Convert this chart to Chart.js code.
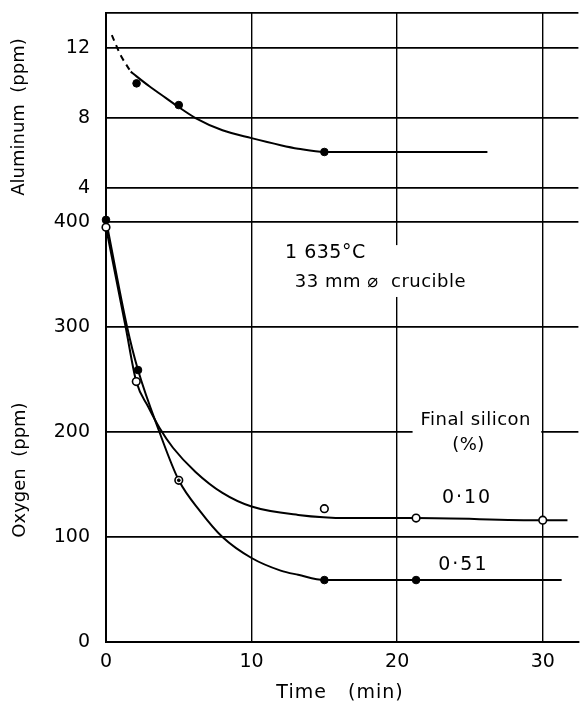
<!DOCTYPE html>
<html>
<head>
<meta charset="utf-8">
<title>Aluminum and oxygen vs time</title>
<script src="https://cdn.jsdelivr.net/npm/chart.js@4.4.1/dist/chart.umd.min.js"></script>
<style>
  html, body { margin: 0; padding: 0; background: #fff; }
  canvas { display: block; }
</style>
</head>
<body>
<canvas id="deox" width="584" height="702"></canvas>
<script>
// measured aluminium (ppm)
const alTime = [2.1, 5.0, 15.0];
const alPpm = [9.98, 8.74, 6.06];

// faired aluminium curve, dashed where extrapolated back to t = 0
const alDashTime = [0.4, 1.0, 1.7];
const alDashPpm = [12.74, 11.6, 10.65];
const alFitTime = [1.7, 2.1, 3.0, 4.1, 5.0, 6.15, 8, 10, 12, 13.2, 15, 26.2];
const alFitPpm = [10.65, 10.38, 9.8, 9.15, 8.62, 8.0, 7.3, 6.85, 6.45, 6.25, 6.06, 6.06];

// oxygen (ppm), final silicon 0.51 % (filled) and 0.10 % (open)
const oxTime51 = [0, 2.2, 5.0, 15.0, 21.3];
const oxPpm51 = [402, 259, 154, 59, 59];
const oxTime10 = [0, 2.08, 5.0, 15.0, 21.3, 30.0];
const oxPpm10 = [395, 248, 154, 127, 118, 116];

const fitTime51 = [0, 1.45, 2.2, 3.67, 5.0, 6.5, 8, 10, 12, 13.2, 15, 21.3, 31.3];
const fitPpm51 = [402, 300, 259, 200, 154, 124, 100, 80, 68, 64, 59, 59, 59];
const fitTime10 = [0, 1.35, 2.08, 2.9, 3.67, 4.6, 6.15, 8, 10, 13.2, 16.6, 21.3, 30, 31.7];
const fitPpm10 = [395, 300, 248, 224, 204, 185, 162, 142, 129, 121, 118, 118, 116, 116];

const timeTicks = [0, 10, 20, 30];
const alTicks = [4, 8, 12];
const oxTicks = [0, 100, 200, 300, 400];

const FONT = '"DejaVu Sans", sans-serif';

function pts(xs, ys) {
  return xs.map((x, i) => ({ x: x, y: ys[i] }));
}

function curve(xs, ys, axis, dash) {
  return {
    data: pts(xs, ys),
    yAxisID: axis,
    showLine: true,
    borderColor: '#000',
    borderWidth: 2,
    borderDash: dash || [],
    pointRadius: 0,
    cubicInterpolationMode: 'monotone',
    order: 3
  };
}

function marks(xs, ys, axis, open, radius) {
  return {
    data: pts(xs, ys),
    yAxisID: axis,
    showLine: false,
    pointRadius: radius || 3.8,
    pointBackgroundColor: open ? '#fff' : '#000',
    pointBorderColor: '#000',
    pointBorderWidth: open ? 1.6 : 1,
    clip: false,
    order: open ? 2 : 1
  };
}

// fixed gutter for the left axes; drop the label overhang so the plot can start near the top
function leftGutter(axis) {
  axis.width = 106;
  axis.paddingTop = 0;
  axis.paddingBottom = 0;
}

// titles and the notes inside the plot
const labelsPlugin = {
  id: 'labels',
  afterDraw(chart) {
    const ctx = chart.ctx;
    const x = chart.scales.x;
    const yO = chart.scales.yO;
    const px = (t) => x.getPixelForValue(t);
    const py = (v) => yO.getPixelForValue(v);
    ctx.save();
    ctx.fillStyle = '#000';
    ctx.textBaseline = 'middle';

    // axis titles
    ctx.font = '18px ' + FONT;
    ctx.textAlign = 'center';
    ctx.save();
    ctx.translate(19, 117);
    ctx.rotate(-Math.PI / 2);
    ctx.fillText('Aluminum  (ppm)', 0, 0);
    ctx.restore();
    ctx.save();
    ctx.translate(20, 470);
    ctx.rotate(-Math.PI / 2);
    ctx.fillText('Oxygen  (ppm)', 0, 0);
    ctx.restore();
    ctx.font = '19px ' + FONT;
    ctx.letterSpacing = '1px';
    ctx.fillText('Time   (min)', 340, 693);

    // white patches behind the notes
    ctx.fillStyle = '#fff';
    ctx.fillRect(px(12.1), py(378), px(25.0) - px(12.1), py(328.6) - py(378));
    ctx.fillRect(px(21.06), py(225.7), px(29.9) - px(21.06), py(175.2) - py(225.7));
    ctx.fillStyle = '#000';

    ctx.font = '19px ' + FONT;
    ctx.letterSpacing = '0.5px';
    ctx.textAlign = 'left';
    ctx.fillText('1 635°C', px(12.3), py(370.5));
    ctx.font = '18px ' + FONT;
    ctx.fillText('33 mm ⌀  crucible', px(12.97), py(342.9));

    ctx.textAlign = 'center';
    ctx.fillText('Final silicon', px(25.4), py(211.4));
    ctx.fillText('(%)', px(24.9), py(187.6));
    ctx.font = '19px ' + FONT;
    ctx.letterSpacing = '2px';
    ctx.fillText('0·10', px(24.8), py(137));
    ctx.fillText('0·51', px(24.55), py(73.3));
    ctx.restore();
  }
};

const ctx = document.getElementById('deox').getContext('2d');
const chart = new Chart(ctx, {
  type: 'scatter',
  data: {
    datasets: [
      curve(alDashTime, alDashPpm, 'yAl', [6, 5]),
      curve(alFitTime, alFitPpm, 'yAl'),
      curve(fitTime51, fitPpm51, 'yO'),
      curve(fitTime10, fitPpm10, 'yO'),
      marks(alTime, alPpm, 'yAl', false),
      marks(oxTime10, oxPpm10, 'yO', true),
      marks(oxTime51, oxPpm51, 'yO', false, [3.8, 3.8, 1.4, 3.8, 3.8])
    ]
  },
  options: {
    responsive: false,
    animation: false,
    layout: { padding: { top: 13, right: 0, bottom: 0, left: 0 } },
    plugins: {
      legend: { display: false },
      tooltip: { enabled: false }
    },
    scales: {
      x: {
        type: 'linear',
        min: 0,
        max: 32.45,
        afterBuildTicks: (axis) => { axis.ticks = timeTicks.map(v => ({ value: v })); },
        afterFit: (axis) => { axis.height = 60; },
        grid: { color: '#000', lineWidth: 1.4, drawTicks: false },
        border: { color: '#000', width: 2 },
        ticks: { color: '#000', padding: 9, font: { family: FONT, size: 19 } }
      },
      // oxygen panel declared first so the aluminium panel stacks above it
      yO: {
        type: 'linear',
        position: 'left',
        stack: 'panels',
        stackWeight: 420,
        min: 0,
        max: 400,
        afterBuildTicks: (axis) => { axis.ticks = oxTicks.map(v => ({ value: v })); },
        afterFit: leftGutter,
        grid: { color: '#000', lineWidth: 1.8, drawTicks: false },
        border: { color: '#000', width: 2 },
        ticks: { color: '#000', padding: 16, font: { family: FONT, size: 19 } }
      },
      yAl: {
        type: 'linear',
        position: 'left',
        stack: 'panels',
        stackWeight: 209,
        min: 2.06,
        max: 14,
        afterBuildTicks: (axis) => {
          axis.ticks = alTicks.map(v => ({ value: v })).concat({ value: axis.max });
        },
        afterFit: leftGutter,
        grid: { color: '#000', lineWidth: 1.8, drawTicks: false },
        border: { color: '#000', width: 2 },
        ticks: {
          color: '#000',
          padding: 16,
          font: { family: FONT, size: 19 },
          callback: (v) => alTicks.includes(v) ? String(v) : ''
        }
      }
    }
  },
  plugins: [labelsPlugin]
});
</script>
</body>
</html>
